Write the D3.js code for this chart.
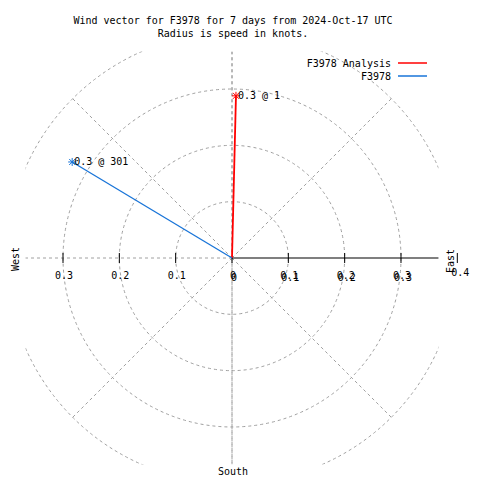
<!DOCTYPE html>
<html>
<head>
<meta charset="utf-8">
<script src="https://cdn.jsdelivr.net/npm/d3@7"></script>
<style>
  html, body { margin: 0; padding: 0; background: #fff; }
  svg text { font-family: "DejaVu Sans Mono", monospace; font-size: 10px; fill: #000; }
</style>
</head>
<body>
<div id="chart"></div>
<script>
// ---- data ----
const titleLines = ["Wind vector for F3978 for 7 days from 2024-Oct-17 UTC", "Radius is speed in knots."];
const seriesNames = ["F3978 Analysis", "F3978"];
const seriesColors = ["#ff0000", "#1874d8"];
const speeds = [0.288, 0.331];        // knots
const directions = [1.4, 301];        // degrees, clockwise from north
const ringValues = [0.1, 0.2, 0.3, 0.4];
const spokeAngles = [0, 45, 90, 135, 180, 225, 270, 315];
const tickValues = [0, 0.1, 0.2, 0.3];
const tickLabels = ["0", "0.1", "0.2", "0.3"];
const outerTick = 0.4;
const axisExtent = 0.3665;

// ---- layout ----
const W = 480, H = 480;
const cx = 232, cy = 258;
const r = d3.scaleLinear().domain([0, 0.1]).range([0, 56.33]);
const x = d3.scaleLinear().domain([-axisExtent, axisExtent]).range([cx - r(axisExtent), cx + r(axisExtent)]);
const y = d3.scaleLinear().domain([-axisExtent, axisExtent]).range([cy + r(axisExtent), cy - r(axisExtent)]);

const svg = d3.select("#chart").append("svg").attr("width", W).attr("height", H);
svg.append("rect").attr("width", W).attr("height", H).attr("fill", "#fff");

// title
svg.selectAll("text.title").data(titleLines).join("text")
  .attr("class", "title").attr("x", cx + 1).attr("y", (d, i) => 23.5 + i * 13.5)
  .attr("text-anchor", "middle").text(d => d);

// clip box
svg.append("clipPath").attr("id", "box").append("rect")
  .attr("x", x(-axisExtent)).attr("y", y(axisExtent))
  .attr("width", x(axisExtent) - x(-axisExtent)).attr("height", y(-axisExtent) - y(axisExtent));

const grid = svg.append("g").attr("clip-path", "url(#box)")
  .attr("fill", "none").attr("stroke", "#a0a0a0").attr("stroke-width", 1).attr("stroke-dasharray", "3,3");

grid.selectAll("circle").data(ringValues).join("circle")
  .attr("cx", cx).attr("cy", cy).attr("r", d => r(d));

const rmax = d3.max(ringValues);
grid.selectAll("line.spoke").data(spokeAngles.filter(a => a !== 90)).join("line")
  .attr("class", "spoke")
  .attr("x1", cx).attr("y1", cy)
  .attr("x2", a => cx + Math.sin(a * Math.PI / 180) * (a % 180 === 0 ? r(axisExtent) : r(rmax)))
  .attr("y2", a => cy - Math.cos(a * Math.PI / 180) * (a % 180 === 0 ? r(axisExtent) : r(rmax)));
// vertical full line through the box
grid.append("line").attr("x1", cx).attr("x2", cx).attr("y1", y(axisExtent)).attr("y2", y(-axisExtent));

// axis on the right (solid black)
svg.append("line").attr("x1", cx).attr("x2", x(axisExtent)).attr("y1", cy).attr("y2", cy)
  .attr("stroke", "#000").attr("stroke-width", 1.2);

// ticks
const allTicks = tickValues.concat(tickValues.filter(v => v > 0).map(v => -v));
svg.selectAll("line.tick").data(allTicks).join("line").attr("class", "tick")
  .attr("x1", d => x(d)).attr("x2", d => x(d))
  .attr("y1", d => d === 0 ? cy : cy - 5).attr("y2", cy + 5)
  .attr("stroke", "#000").attr("stroke-width", 1);

// tick labels: left side
svg.selectAll("text.tl").data(tickValues.filter(v => v > 0)).join("text").attr("class", "tl")
  .attr("x", d => x(-d) + 1).attr("y", 279).attr("text-anchor", "middle")
  .text(d => tickLabels[tickValues.indexOf(d)]);
// tick labels: right side (x tics and r tics overprinted)
[[0, 0], [1, 2]].forEach(([dx, dy]) => {
  svg.selectAll("text.tr" + dx).data(tickValues).join("text").attr("class", "tr" + dx)
    .attr("x", d => x(d) + 1 + dx).attr("y", 279 + dy).attr("text-anchor", "middle")
    .text((d, i) => tickLabels[i]);
});
// outer r tick
svg.append("line").attr("x1", cx + r(outerTick)).attr("x2", cx + r(outerTick))
  .attr("y1", cy - 5).attr("y2", cy + 5).attr("stroke", "#000");
svg.append("text").attr("x", cx + r(outerTick) + 3).attr("y", 276).attr("text-anchor", "middle")
  .text(outerTick.toFixed(1));

// compass labels
svg.append("text").attr("transform", `translate(19,${cy + 1}) rotate(-90)`).attr("text-anchor", "middle").text("West");
svg.append("text").attr("transform", `translate(454,${cy + 3}) rotate(-90)`).attr("text-anchor", "middle").text("East");
svg.append("text").attr("x", cx + 1).attr("y", 475).attr("text-anchor", "middle").text("South");

// vectors
const pts = speeds.map((s, i) => {
  const a = directions[i] * Math.PI / 180;
  return { x: cx + Math.sin(a) * r(s), y: cy - Math.cos(a) * r(s), i };
});
svg.selectAll("line.vec").data(pts).join("line").attr("class", "vec")
  .attr("x1", cx).attr("y1", cy).attr("x2", d => d.x).attr("y2", d => d.y)
  .attr("stroke", d => seriesColors[d.i]).attr("stroke-width", d => d.i === 0 ? 1.8 : 1.3);

// star markers
const star = svg.selectAll("g.star").data(pts).join("g").attr("class", "star")
  .attr("transform", d => `translate(${d.x},${d.y})`)
  .attr("stroke", d => seriesColors[d.i]).attr("stroke-width", 1);
star.append("line").attr("x1", -4).attr("x2", 4).attr("y1", 0).attr("y2", 0);
star.append("line").attr("x1", 0).attr("x2", 0).attr("y1", -4).attr("y2", 4);
star.append("line").attr("x1", -3).attr("x2", 3).attr("y1", -3).attr("y2", 3);
star.append("line").attr("x1", -3).attr("x2", 3).attr("y1", 3).attr("y2", -3);

svg.selectAll("text.vl").data(pts).join("text").attr("class", "vl")
  .attr("x", d => d.x + 2).attr("y", d => d.y + 3)
  .text(d => `${speeds[d.i].toFixed(1)} @ ${Math.round(directions[d.i])}`);

// legend
const leg = svg.selectAll("g.leg").data(seriesNames).join("g").attr("class", "leg")
  .attr("transform", (d, i) => `translate(0,${63 + i * 13})`);
leg.append("text").attr("x", 391).attr("y", 4).attr("text-anchor", "end").text(d => d);
leg.append("line").attr("x1", 398).attr("x2", 427).attr("y1", 0).attr("y2", 0)
  .attr("stroke", (d, i) => seriesColors[i]).attr("stroke-width", 1.5);
</script>
</body>
</html>
